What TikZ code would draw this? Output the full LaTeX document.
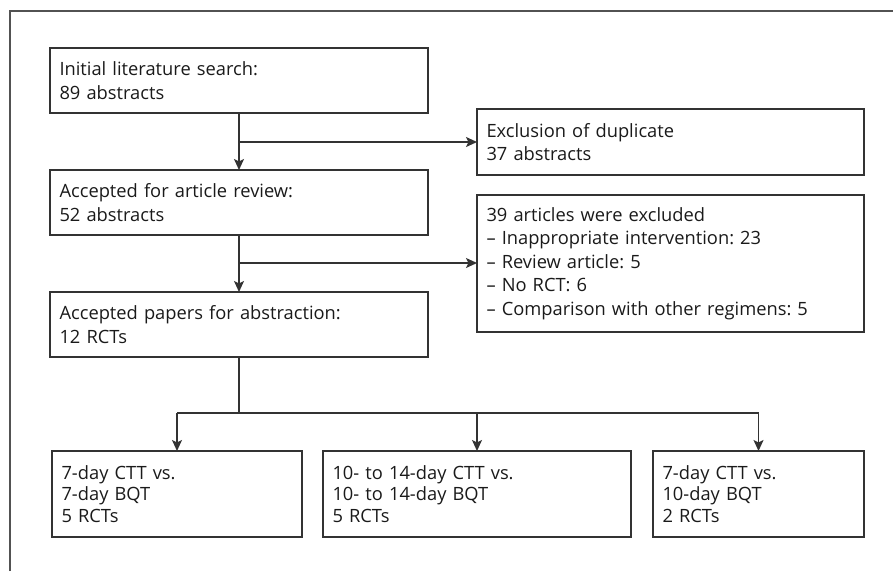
\documentclass[tikz,border=0pt]{standalone}
\usepackage{fontspec}
\setmainfont{Open Sans}
\usetikzlibrary{arrows.meta}
\definecolor{linec}{HTML}{333333}
\definecolor{txtc}{HTML}{1A1A1A}
\frenchspacing
\begin{document}
\begin{tikzpicture}[x=1pt,y=-1pt,
  box/.style={draw=linec, line width=1.5pt, rectangle, anchor=north west,
    inner xsep=9.5pt, inner ysep=0pt, outer sep=0pt, align=left, text=txtc,
    font=\fontsize{18.3}{23.5}\selectfont\frenchspacing},
  lowbox/.style={box, font=\fontsize{18.3}{21.5}\selectfont\frenchspacing},
  conn/.style={draw=linec, line width=1.5pt},
  arr/.style={conn, -{Stealth[length=11pt,width=10pt,inset=2.5pt]}},
  frame/.style={draw=linec!85, line width=1.2pt}]
\useasboundingbox (0,0) rectangle (893,571);
\draw[frame] (10,571) -- (10,11) -- (893,11);

\node[box, minimum width=378pt, minimum height=65pt, text width=359pt] (b1) at (50,48)
  {Initial literature search:\\89 abstracts};
\node[box, minimum width=378pt, minimum height=65pt, text width=359pt] (b2) at (50,170)
  {Accepted for article review:\\52 abstracts};
\node[box, minimum width=378pt, minimum height=65pt, text width=359pt] (b3) at (50,292)
  {Accepted papers for abstraction:\\12 RCTs};
\node[box, minimum width=387pt, minimum height=66pt, text width=368pt] (ex) at (477,109)
  {Exclusion of duplicate\\37 abstracts};
\node[box, minimum width=387pt, minimum height=137pt, text width=368pt] (ey) at (477,195)
  {39 articles were excluded\\
   -- Inappropriate intervention: 23\\
   -- Review article: 5\\
   -- No RCT: 6\\
   -- Comparison with other regimens: 5};
\node[lowbox, minimum width=250pt, minimum height=86pt, text width=231pt] (ra) at (52,451)
  {7-day CTT vs.\\7-day BQT\\5 RCTs};
\node[lowbox, minimum width=308pt, minimum height=86pt, text width=289pt] (rb) at (323,451)
  {10- to 14-day CTT vs.\\10- to 14-day BQT\\5 RCTs};
\node[lowbox, minimum width=211pt, minimum height=86pt, text width=192pt] (rc) at (653,451)
  {7-day CTT vs.\\10-day BQT\\2 RCTs};

\coordinate (j1) at (b1.south |- ex.west);
\coordinate (j2) at (b2.south |- 0,263);
\coordinate (j3) at (b3.south |- 0,413);
\coordinate (ja) at (ra.north |- j3);
\coordinate (jb) at (rb.north |- j3);
\coordinate (jc) at (rc.north |- j3);

\draw[arr] (b1.south) -- (b2.north);
\draw[arr] (j1) -- (ex.west);
\draw[arr] (b2.south) -- (b3.north);
\draw[arr] (j2) -- (ey.west |- j2);
\draw[conn] (b3.south) -- (j3);
\draw[conn] (ja) -- (jc);
\draw[arr] (ja) -- (ra.north);
\draw[arr] (jb) -- (rb.north);
\draw[arr] (jc) -- (rc.north);
\end{tikzpicture}
\end{document}
